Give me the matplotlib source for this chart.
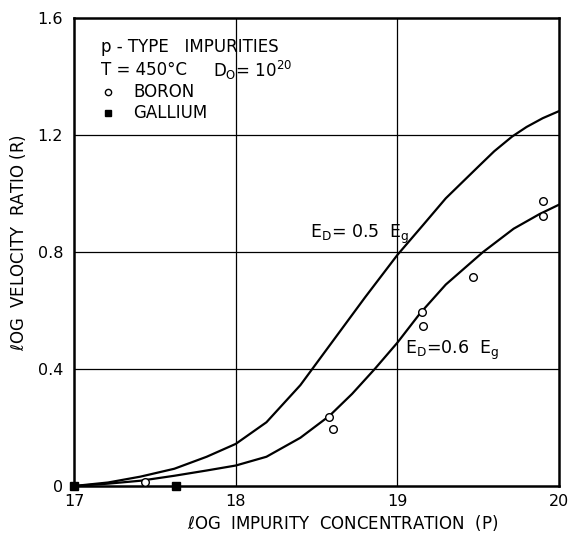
import numpy as np
import matplotlib.pyplot as plt

# curve: E_D = 0.5 Eg
x_05 = [17.0, 17.21, 17.41, 17.62, 17.82, 18.0, 18.19, 18.40, 18.60,
        18.80, 19.0, 19.16, 19.30, 19.51, 19.60, 19.71, 19.80, 19.90, 20.0]
y_05 = [0.0, 0.012, 0.032, 0.059, 0.10, 0.144, 0.218, 0.345, 0.495,
        0.645, 0.79, 0.893, 0.984, 1.097, 1.145, 1.195, 1.228, 1.258, 1.282]

# curve: E_D = 0.6 Eg
x_06 = [17.0, 17.21, 17.41, 17.62, 17.82, 18.0, 18.19, 18.40, 18.58, 18.72,
        18.86, 19.0, 19.14, 19.30, 19.53, 19.72, 19.88, 20.0]
y_06 = [0.0, 0.008, 0.018, 0.035, 0.053, 0.07, 0.10, 0.165, 0.24, 0.315,
        0.40, 0.49, 0.59, 0.689, 0.80, 0.88, 0.93, 0.962]

# measured points
boron_x = [17.44, 18.58, 18.60, 19.15, 19.16, 19.47, 19.90, 19.90]
boron_y = [0.014, 0.236, 0.195, 0.595, 0.547, 0.715, 0.974, 0.923]
gallium_x = [17.0, 17.63]
gallium_y = [0.0, 0.0]

xticks = [17, 18, 19, 20]
yticks = [0, 0.4, 0.8, 1.2, 1.6]
yticklabels = ['0', '0.4', '0.8', '1.2', '1.6']

plt.rcParams['font.family'] = 'DejaVu Sans'
fig = plt.figure(figsize=(5.75, 5.35), dpi=100)
ax = fig.add_axes([0.129, 0.0916, 0.843, 0.8744])

ax.set_xlim(17, 20)
ax.set_ylim(0, 1.6)
ax.set_xticks(xticks)
ax.set_yticks(yticks)
ax.set_yticklabels(yticklabels)
ax.tick_params(length=0, labelsize=11.5)
ax.tick_params(axis='x', pad=6)
ax.tick_params(axis='y', pad=8)
for s in ax.spines.values():
    s.set_linewidth(1.8)

# grid
for gx in [18, 19]:
    ax.axvline(gx, color='black', lw=0.9, zorder=1)
for gy in [0.4, 0.8, 1.2]:
    ax.axhline(gy, color='black', lw=0.9, zorder=1)

ax.plot(x_05, y_05, color='black', lw=1.6, zorder=2, solid_joinstyle='round')
ax.plot(x_06, y_06, color='black', lw=1.6, zorder=2, solid_joinstyle='round')

ax.plot(boron_x, boron_y, 'o', ms=5.5, mfc='white', mec='black', mew=1.0,
        zorder=4, clip_on=False)
ax.plot(gallium_x, gallium_y, 's', ms=5.5, color='black', zorder=4, clip_on=False)

ax.text(18.46, 0.86, r'E$_\mathrm{D}$= 0.5  E$_\mathrm{g}$', fontsize=12.5,
        va='center')
ax.text(19.05, 0.465, r'E$_\mathrm{D}$=0.6  E$_\mathrm{g}$', fontsize=12.5,
        va='center')

# key box text
ax.text(17.165, 1.50, 'p - TYPE   IMPURITIES', fontsize=12, va='center')
ax.text(17.165, 1.422, 'T = 450°C', fontsize=12, va='center')
ax.text(17.86, 1.422, r'D$_\mathrm{O}$= 10$^{20}$', fontsize=12, va='center')
ax.plot([17.21], [1.347], 'o', ms=4.5, mfc='white', mec='black', mew=1.0)
ax.text(17.365, 1.347, 'BORON', fontsize=12, va='center')
ax.plot([17.21], [1.275], 's', ms=5, color='black')
ax.text(17.365, 1.275, 'GALLIUM', fontsize=12, va='center')

ax.set_xlabel(r'$\ell$OG  IMPURITY  CONCENTRATION  (P)', fontsize=12)
ax.xaxis.set_label_coords(0.555, -0.058)
ax.set_ylabel(r'$\ell$OG  VELOCITY  RATIO (R)', fontsize=12)
ax.yaxis.set_label_coords(-0.095, 0.52)

plt.savefig('out.png', dpi=100)
